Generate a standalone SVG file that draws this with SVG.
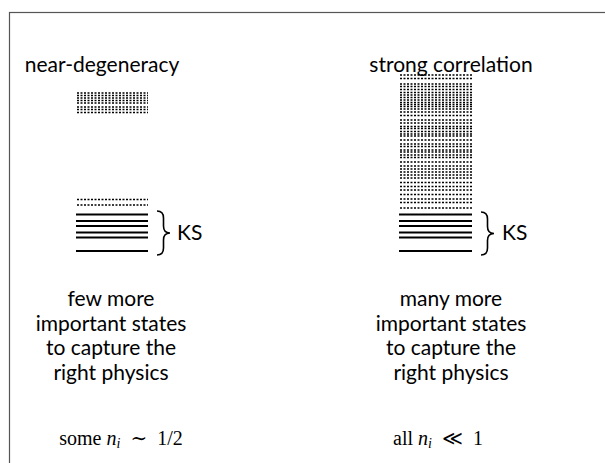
<svg xmlns="http://www.w3.org/2000/svg" width="605" height="463" viewBox="0 0 605 463">
  <style>
    .label { font-family: "Lato", "Open Sans", "DejaVu Sans", sans-serif; font-size: 21px; fill: #000; text-anchor: middle; }
    .ks { font-family: "Lato", "Open Sans", "DejaVu Sans", sans-serif; font-size: 21px; fill: #000; }
    .math { font-family: "Liberation Serif", "DejaVu Serif", serif; font-size: 20px; fill: #000; text-anchor: middle; }
    .dot { stroke: #000; stroke-width: 1.5; stroke-dasharray: 2 1.5; }
    .lvl { stroke: #000; stroke-width: 2; }
    .brace { fill: none; stroke: #000; stroke-width: 1.6; }
  </style>
  <rect x="0" y="0" width="605" height="463" fill="#fff"/>
  <rect x="9.5" y="12.5" width="610" height="470" fill="none" stroke="#555" stroke-width="1.2"/>

  <!-- left panel: near-degeneracy -->
  <g id="near-degeneracy">
    <text class="label" x="102" y="72">near-degeneracy</text>
    <g id="left-upper-levels">
      <line class="dot" x1="77" x2="148" y1="93" y2="93"/>
      <line class="dot" x1="77" x2="148" y1="95.5" y2="95.5"/>
      <line class="dot" x1="77" x2="148" y1="98" y2="98"/>
      <line class="dot" x1="77" x2="148" y1="100.5" y2="100.5"/>
      <line class="dot" x1="77" x2="148" y1="103" y2="103"/>
      <line class="dot" x1="77" x2="148" y1="107" y2="107"/>
      <line class="dot" x1="77" x2="148" y1="109.5" y2="109.5"/>
      <line class="dot" x1="77" x2="148" y1="112.5" y2="112.5"/>
    </g>
    <g id="left-lower-levels">
      <line class="dot" x1="77" x2="148" y1="199.5" y2="199.5"/>
      <line class="dot" x1="77" x2="148" y1="205" y2="205"/>
      <line class="lvl" x1="76" x2="148" y1="214.5" y2="214.5"/>
      <line class="lvl" x1="76" x2="148" y1="221" y2="221"/>
      <line class="lvl" x1="76" x2="148" y1="226" y2="226"/>
      <line class="lvl" x1="76" x2="148" y1="232.5" y2="232.5"/>
      <line class="lvl" x1="76" x2="148" y1="237.5" y2="237.5"/>
      <line class="lvl" x1="76" x2="148" y1="251" y2="251"/>
    </g>
    <path class="brace" d="M157,211 Q163.5,211 163.5,218 L163.5,226 Q163.5,233 170,233 Q163.5,233 163.5,240 L163.5,248 Q163.5,255 157,255"/>
    <text class="ks" x="177" y="240">KS</text>
    <text class="label" x="111" y="306">few more</text>
    <text class="label" x="111" y="331">important states</text>
    <text class="label" x="111" y="355">to capture the</text>
    <text class="label" x="111" y="380">right physics</text>
    <text class="math" x="121" y="445">some <tspan font-style="italic">n</tspan><tspan font-style="italic" font-size="14" dy="3">i</tspan><tspan dy="-3" xml:space="preserve">  ∼  1/2</tspan></text>
  </g>

  <!-- right panel: strong correlation -->
  <g id="strong-correlation">
    <text class="label" x="451" y="72">strong correlation</text>
    <g id="right-levels">
      <line class="dot" x1="400" x2="472" y1="75" y2="75"/>
      <line class="dot" x1="400" x2="472" y1="78.5" y2="78.5"/>
      <line class="dot" x1="400" x2="472" y1="84" y2="84"/>
      <line class="dot" x1="400" x2="472" y1="86.5" y2="86.5"/>
      <line class="dot" x1="400" x2="472" y1="89.5" y2="89.5"/>
      <line class="dot" x1="400" x2="472" y1="92.5" y2="92.5"/>
      <line class="dot" x1="400" x2="472" y1="95" y2="95"/>
      <line class="dot" x1="400" x2="472" y1="97.5" y2="97.5"/>
      <line class="dot" x1="400" x2="472" y1="100" y2="100"/>
      <line class="dot" x1="400" x2="472" y1="102.5" y2="102.5"/>
      <line class="dot" x1="400" x2="472" y1="104.5" y2="104.5"/>
      <line class="dot" x1="400" x2="472" y1="106.5" y2="106.5"/>
      <line class="dot" x1="400" x2="472" y1="109" y2="109"/>
      <line class="dot" x1="400" x2="472" y1="112" y2="112"/>
      <line class="dot" x1="400" x2="472" y1="115.5" y2="115.5"/>
      <line class="dot" x1="400" x2="472" y1="120" y2="120"/>
      <line class="dot" x1="400" x2="472" y1="123" y2="123"/>
      <line class="dot" x1="400" x2="472" y1="126.5" y2="126.5"/>
      <line class="dot" x1="400" x2="472" y1="128.5" y2="128.5"/>
      <line class="dot" x1="400" x2="472" y1="131.5" y2="131.5"/>
      <line class="dot" x1="400" x2="472" y1="134" y2="134"/>
      <line class="dot" x1="400" x2="472" y1="136" y2="136"/>
      <line class="dot" x1="400" x2="472" y1="140" y2="140"/>
      <line class="dot" x1="400" x2="472" y1="144" y2="144"/>
      <line class="dot" x1="400" x2="472" y1="146.5" y2="146.5"/>
      <line class="dot" x1="400" x2="472" y1="150" y2="150"/>
      <line class="dot" x1="400" x2="472" y1="152" y2="152"/>
      <line class="dot" x1="400" x2="472" y1="155" y2="155"/>
      <line class="dot" x1="400" x2="472" y1="157.5" y2="157.5"/>
      <line class="dot" x1="400" x2="472" y1="162" y2="162"/>
      <line class="dot" x1="400" x2="472" y1="166" y2="166"/>
      <line class="dot" x1="400" x2="472" y1="169" y2="169"/>
      <line class="dot" x1="400" x2="472" y1="172" y2="172"/>
      <line class="dot" x1="400" x2="472" y1="175" y2="175"/>
      <line class="dot" x1="400" x2="472" y1="178" y2="178"/>
      <line class="dot" x1="400" x2="472" y1="182.5" y2="182.5"/>
      <line class="dot" x1="400" x2="472" y1="186.5" y2="186.5"/>
      <line class="dot" x1="400" x2="472" y1="190" y2="190"/>
      <line class="dot" x1="400" x2="472" y1="194.5" y2="194.5"/>
      <line class="dot" x1="400" x2="472" y1="199" y2="199"/>
      <line class="dot" x1="400" x2="472" y1="202.5" y2="202.5"/>
      <line class="dot" x1="400" x2="472" y1="208" y2="208"/>
      <line class="lvl" x1="399" x2="472" y1="214.5" y2="214.5"/>
      <line class="lvl" x1="399" x2="472" y1="221" y2="221"/>
      <line class="lvl" x1="399" x2="472" y1="226" y2="226"/>
      <line class="lvl" x1="399" x2="472" y1="232.5" y2="232.5"/>
      <line class="lvl" x1="399" x2="472" y1="237.5" y2="237.5"/>
      <line class="lvl" x1="399" x2="472" y1="251" y2="251"/>
    </g>
    <path class="brace" d="M481,212 Q487.5,212 487.5,219 L487.5,226.5 Q487.5,233.5 494,233.5 Q487.5,233.5 487.5,240.5 L487.5,248 Q487.5,255 481,255"/>
    <text class="ks" x="502" y="240">KS</text>
    <text class="label" x="451" y="306">many more</text>
    <text class="label" x="451" y="331">important states</text>
    <text class="label" x="451" y="355">to capture the</text>
    <text class="label" x="451" y="380">right physics</text>
    <text class="math" x="438" y="445">all <tspan font-style="italic">n</tspan><tspan font-style="italic" font-size="14" dy="3">i</tspan><tspan dy="-3" xml:space="preserve">  ≪  1</tspan></text>
  </g>
</svg>
